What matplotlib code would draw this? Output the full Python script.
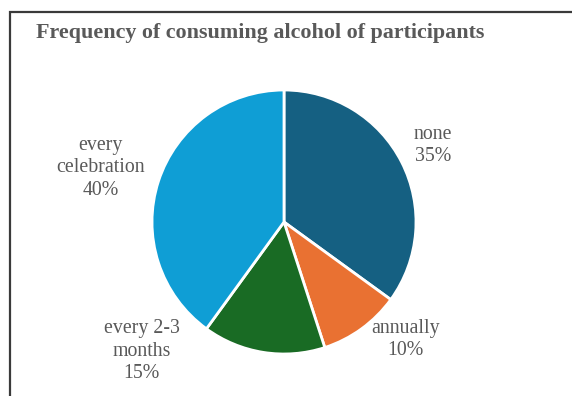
import matplotlib
matplotlib.use("Agg")
import matplotlib.pyplot as plt
from matplotlib.patches import Rectangle

# Survey data
categories = ["none", "annually", "every 2-3\nmonths", "every\ncelebration"]
shares = [35, 10, 15, 40]
colors = ["#156082", "#E97132", "#196B24", "#0F9ED5"]

# Label anchor positions (in units of pie radius, relative to centre)
label_pos = [(1.13, 0.58), (0.92, -0.89), (-1.08, -0.98), (-1.39, 0.41)]

W, H = 572, 396
fig = plt.figure(figsize=(W / 100, H / 100), dpi=100)
fig.patch.set_facecolor("white")

# Chart border (left and top edges visible)
fig.add_artist(Rectangle((10 / W, -0.1), 1.2, (H - 12) / H + 0.1,
                         transform=fig.transFigure, fill=False,
                         edgecolor="#3a3a3a", linewidth=1.6))

fig.text(260 / W, 1 - 33 / H, "Frequency of consuming alcohol of participants",
         ha="center", va="center", fontsize=15.8, fontweight="bold",
         family="Liberation Serif", color="#595959")

cx, cy, r = 284, 222, 132
ax = fig.add_axes([(cx - r) / W, (H - cy - r) / H, 2 * r / W, 2 * r / H])
ax.pie(shares, colors=colors, startangle=90, counterclock=False,
       wedgeprops=dict(edgecolor="white", linewidth=2))
ax.set_xlim(-1, 1)
ax.set_ylim(-1, 1)
ax.set_aspect("equal")
ax.axis("off")

for name, val, (lx, ly) in zip(categories, shares, label_pos):
    ax.text(lx, ly, f"{name}\n{val}%", ha="center", va="center",
            fontsize=14.3, family="Liberation Serif", color="#595959",
            linespacing=1.25, clip_on=False)

fig.savefig("out.png", dpi=100, facecolor="white")
